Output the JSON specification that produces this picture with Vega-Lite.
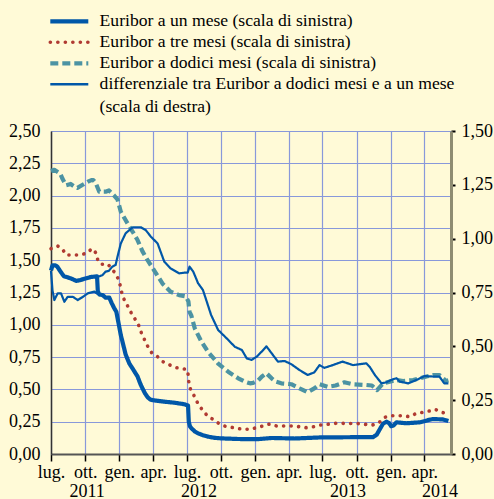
{
"$schema": "https://vega.github.io/schema/vega-lite/v6.json",
"width": 400, "height": 323,
"autosize": {"type": "none"},
"padding": {"left": 51, "top": 131, "right": 43, "bottom": 45},
"background": "#FFFAD7",
"config": {
  "view": {"stroke": null},
  "font": "Liberation Serif, Times New Roman, DejaVu Serif, serif",
  "axis": {"labelFont": "Liberation Serif, Times New Roman, DejaVu Serif, serif", "labelColor": "#000000", "labelFontSize": 18, "title": null, "labelFlush": false, "labelOverlap": false},
  "legend": {"labelFont": "Liberation Serif, Times New Roman, DejaVu Serif, serif", "labelColor": "#000000"}
},
"data": {"values": [
{"d":"2011-07-01","s":"a","v":1.42},{"d":"2011-07-05","s":"a","v":1.46},{"d":"2011-07-13","s":"a","v":1.46},{"d":"2011-07-18","s":"a","v":1.45},{"d":"2011-07-27","s":"a","v":1.41},{"d":"2011-08-05","s":"a","v":1.375},{"d":"2011-08-23","s":"a","v":1.36},{"d":"2011-09-07","s":"a","v":1.34},{"d":"2011-09-16","s":"a","v":1.345},{"d":"2011-10-04","s":"a","v":1.36},{"d":"2011-10-16","s":"a","v":1.37},{"d":"2011-11-02","s":"a","v":1.375},{"d":"2011-11-04","s":"a","v":1.26},{"d":"2011-11-08","s":"a","v":1.235},{"d":"2011-11-17","s":"a","v":1.23},{"d":"2011-11-25","s":"a","v":1.21},{"d":"2011-12-05","s":"a","v":1.21},{"d":"2011-12-11","s":"a","v":1.17},{"d":"2011-12-18","s":"a","v":1.13},{"d":"2011-12-24","s":"a","v":1.10},{"d":"2011-12-28","s":"a","v":1.04},{"d":"2012-01-05","s":"a","v":0.92},{"d":"2012-01-12","s":"a","v":0.84},{"d":"2012-01-18","s":"a","v":0.77},{"d":"2012-01-28","s":"a","v":0.70},{"d":"2012-02-06","s":"a","v":0.66},{"d":"2012-02-19","s":"a","v":0.60},{"d":"2012-02-27","s":"a","v":0.54},{"d":"2012-03-03","s":"a","v":0.51},{"d":"2012-03-10","s":"a","v":0.47},{"d":"2012-03-17","s":"a","v":0.44},{"d":"2012-03-25","s":"a","v":0.42},{"d":"2012-04-04","s":"a","v":0.415},{"d":"2012-05-01","s":"a","v":0.405},{"d":"2012-05-28","s":"a","v":0.397},{"d":"2012-06-24","s":"a","v":0.385},{"d":"2012-07-04","s":"a","v":0.375},{"d":"2012-07-06","s":"a","v":0.25},{"d":"2012-07-09","s":"a","v":0.215},{"d":"2012-07-13","s":"a","v":0.20},{"d":"2012-07-22","s":"a","v":0.175},{"d":"2012-07-31","s":"a","v":0.16},{"d":"2012-08-13","s":"a","v":0.145},{"d":"2012-08-27","s":"a","v":0.134},{"d":"2012-09-14","s":"a","v":0.125},{"d":"2012-10-02","s":"a","v":0.121},{"d":"2012-11-16","s":"a","v":0.116},{"d":"2013-01-09","s":"a","v":0.115},{"d":"2013-02-14","s":"a","v":0.124},{"d":"2013-04-17","s":"a","v":0.12},{"d":"2013-06-23","s":"a","v":0.128},{"d":"2013-09-20","s":"a","v":0.13},{"d":"2013-11-14","s":"a","v":0.13},{"d":"2013-11-24","s":"a","v":0.15},{"d":"2013-12-02","s":"a","v":0.19},{"d":"2013-12-11","s":"a","v":0.235},{"d":"2013-12-20","s":"a","v":0.25},{"d":"2013-12-27","s":"a","v":0.24},{"d":"2014-01-02","s":"a","v":0.215},{"d":"2014-01-08","s":"a","v":0.22},{"d":"2014-01-16","s":"a","v":0.245},{"d":"2014-02-12","s":"a","v":0.238},{"d":"2014-03-20","s":"a","v":0.245},{"d":"2014-04-15","s":"a","v":0.265},{"d":"2014-04-24","s":"a","v":0.27},{"d":"2014-05-21","s":"a","v":0.268},{"d":"2014-06-05","s":"a","v":0.255},
{"d":"2011-07-01","s":"b","v":1.59},{"d":"2011-07-10","s":"b","v":1.60},{"d":"2011-07-19","s":"b","v":1.61},{"d":"2011-08-02","s":"b","v":1.58},{"d":"2011-08-11","s":"b","v":1.54},{"d":"2011-08-29","s":"b","v":1.54},{"d":"2011-09-16","s":"b","v":1.54},{"d":"2011-10-04","s":"b","v":1.553},{"d":"2011-10-20","s":"b","v":1.59},{"d":"2011-10-31","s":"b","v":1.553},{"d":"2011-11-04","s":"b","v":1.50},{"d":"2011-11-13","s":"b","v":1.468},{"d":"2011-12-01","s":"b","v":1.47},{"d":"2011-12-14","s":"b","v":1.424},{"d":"2011-12-23","s":"b","v":1.393},{"d":"2012-01-01","s":"b","v":1.333},{"d":"2012-01-10","s":"b","v":1.217},{"d":"2012-01-21","s":"b","v":1.159},{"d":"2012-01-30","s":"b","v":1.107},{"d":"2012-02-10","s":"b","v":1.055},{"d":"2012-02-21","s":"b","v":1.004},{"d":"2012-02-28","s":"b","v":0.947},{"d":"2012-03-08","s":"b","v":0.89},{"d":"2012-03-17","s":"b","v":0.836},{"d":"2012-03-28","s":"b","v":0.784},{"d":"2012-04-13","s":"b","v":0.753},{"d":"2012-04-28","s":"b","v":0.714},{"d":"2012-05-16","s":"b","v":0.689},{"d":"2012-06-04","s":"b","v":0.668},{"d":"2012-06-24","s":"b","v":0.658},{"d":"2012-07-01","s":"b","v":0.655},{"d":"2012-07-04","s":"b","v":0.62},{"d":"2012-07-06","s":"b","v":0.56},{"d":"2012-07-11","s":"b","v":0.495},{"d":"2012-07-22","s":"b","v":0.443},{"d":"2012-07-31","s":"b","v":0.387},{"d":"2012-08-12","s":"b","v":0.34},{"d":"2012-08-25","s":"b","v":0.296},{"d":"2012-09-12","s":"b","v":0.263},{"d":"2012-09-28","s":"b","v":0.23},{"d":"2012-10-16","s":"b","v":0.211},{"d":"2012-11-05","s":"b","v":0.204},{"d":"2012-11-27","s":"b","v":0.191},{"d":"2012-12-18","s":"b","v":0.191},{"d":"2013-01-05","s":"b","v":0.204},{"d":"2013-01-22","s":"b","v":0.217},{"d":"2013-02-09","s":"b","v":0.232},{"d":"2013-02-27","s":"b","v":0.217},{"d":"2013-04-08","s":"b","v":0.217},{"d":"2013-04-30","s":"b","v":0.211},{"d":"2013-05-18","s":"b","v":0.204},{"d":"2013-06-05","s":"b","v":0.21},{"d":"2013-06-26","s":"b","v":0.224},{"d":"2013-08-07","s":"b","v":0.238},{"d":"2013-10-07","s":"b","v":0.235},{"d":"2013-11-12","s":"b","v":0.224},{"d":"2013-11-30","s":"b","v":0.242},{"d":"2013-12-13","s":"b","v":0.281},{"d":"2013-12-29","s":"b","v":0.296},{"d":"2014-02-03","s":"b","v":0.296},{"d":"2014-02-21","s":"b","v":0.289},{"d":"2014-03-11","s":"b","v":0.315},{"d":"2014-03-29","s":"b","v":0.323},{"d":"2014-04-15","s":"b","v":0.333},{"d":"2014-04-30","s":"b","v":0.346},{"d":"2014-05-18","s":"b","v":0.323},{"d":"2014-06-05","s":"b","v":0.31},
{"d":"2011-07-01","s":"c","v":2.19},{"d":"2011-07-10","s":"c","v":2.20},{"d":"2011-07-18","s":"c","v":2.185},{"d":"2011-07-26","s":"c","v":2.17},{"d":"2011-08-01","s":"c","v":2.13},{"d":"2011-08-10","s":"c","v":2.08},{"d":"2011-08-23","s":"c","v":2.09},{"d":"2011-09-02","s":"c","v":2.07},{"d":"2011-09-10","s":"c","v":2.06},{"d":"2011-09-28","s":"c","v":2.09},{"d":"2011-10-10","s":"c","v":2.11},{"d":"2011-10-18","s":"c","v":2.12},{"d":"2011-10-23","s":"c","v":2.12},{"d":"2011-10-29","s":"c","v":2.10},{"d":"2011-11-08","s":"c","v":2.03},{"d":"2011-11-16","s":"c","v":2.03},{"d":"2011-11-25","s":"c","v":2.03},{"d":"2011-12-04","s":"c","v":2.04},{"d":"2011-12-18","s":"c","v":2.00},{"d":"2011-12-27","s":"c","v":1.97},{"d":"2012-01-05","s":"c","v":1.875},{"d":"2012-01-23","s":"c","v":1.785},{"d":"2012-02-06","s":"c","v":1.72},{"d":"2012-02-19","s":"c","v":1.656},{"d":"2012-03-03","s":"c","v":1.57},{"d":"2012-03-17","s":"c","v":1.50},{"d":"2012-04-04","s":"c","v":1.42},{"d":"2012-04-26","s":"c","v":1.32},{"d":"2012-05-18","s":"c","v":1.256},{"d":"2012-06-10","s":"c","v":1.23},{"d":"2012-06-28","s":"c","v":1.22},{"d":"2012-07-05","s":"c","v":1.18},{"d":"2012-07-08","s":"c","v":1.10},{"d":"2012-07-13","s":"c","v":1.07},{"d":"2012-07-22","s":"c","v":0.973},{"d":"2012-08-09","s":"c","v":0.87},{"d":"2012-08-27","s":"c","v":0.79},{"d":"2012-09-23","s":"c","v":0.70},{"d":"2012-10-20","s":"c","v":0.637},{"d":"2012-11-16","s":"c","v":0.586},{"d":"2012-12-04","s":"c","v":0.56},{"d":"2012-12-18","s":"c","v":0.547},{"d":"2012-12-26","s":"c","v":0.55},{"d":"2013-01-09","s":"c","v":0.57},{"d":"2013-01-19","s":"c","v":0.60},{"d":"2013-01-31","s":"c","v":0.625},{"d":"2013-02-14","s":"c","v":0.586},{"d":"2013-02-25","s":"c","v":0.56},{"d":"2013-03-12","s":"c","v":0.547},{"d":"2013-04-08","s":"c","v":0.54},{"d":"2013-04-30","s":"c","v":0.508},{"d":"2013-05-22","s":"c","v":0.478},{"d":"2013-06-09","s":"c","v":0.508},{"d":"2013-06-23","s":"c","v":0.54},{"d":"2013-07-15","s":"c","v":0.52},{"d":"2013-08-05","s":"c","v":0.53},{"d":"2013-08-29","s":"c","v":0.555},{"d":"2013-09-21","s":"c","v":0.54},{"d":"2013-10-27","s":"c","v":0.534},{"d":"2013-11-11","s":"c","v":0.53},{"d":"2013-11-25","s":"c","v":0.495},{"d":"2013-12-11","s":"c","v":0.547},{"d":"2013-12-29","s":"c","v":0.56},{"d":"2014-01-16","s":"c","v":0.573},{"d":"2014-02-03","s":"c","v":0.565},{"d":"2014-03-02","s":"c","v":0.573},{"d":"2014-03-20","s":"c","v":0.586},{"d":"2014-04-07","s":"c","v":0.60},{"d":"2014-04-24","s":"c","v":0.61},{"d":"2014-05-12","s":"c","v":0.61},{"d":"2014-05-30","s":"c","v":0.565},{"d":"2014-06-05","s":"c","v":0.57},
{"d":"2011-07-01","s":"d","v":0.85},{"d":"2011-07-05","s":"d","v":0.76},{"d":"2011-07-10","s":"d","v":0.715},{"d":"2011-07-19","s":"d","v":0.746},{"d":"2011-07-28","s":"d","v":0.746},{"d":"2011-08-06","s":"d","v":0.707},{"d":"2011-08-15","s":"d","v":0.73},{"d":"2011-08-29","s":"d","v":0.73},{"d":"2011-09-11","s":"d","v":0.715},{"d":"2011-09-25","s":"d","v":0.73},{"d":"2011-10-08","s":"d","v":0.746},{"d":"2011-10-26","s":"d","v":0.754},{"d":"2011-11-02","s":"d","v":0.745},{"d":"2011-11-04","s":"d","v":0.823},{"d":"2011-11-16","s":"d","v":0.83},{"d":"2011-11-25","s":"d","v":0.847},{"d":"2011-12-04","s":"d","v":0.851},{"d":"2011-12-13","s":"d","v":0.87},{"d":"2011-12-22","s":"d","v":0.878},{"d":"2011-12-27","s":"d","v":0.916},{"d":"2012-01-05","s":"d","v":0.978},{"d":"2012-01-18","s":"d","v":1.025},{"d":"2012-02-06","s":"d","v":1.053},{"d":"2012-02-28","s":"d","v":1.053},{"d":"2012-03-12","s":"d","v":1.04},{"d":"2012-03-26","s":"d","v":1.009},{"d":"2012-04-13","s":"d","v":0.978},{"d":"2012-05-01","s":"d","v":0.893},{"d":"2012-05-18","s":"d","v":0.862},{"d":"2012-06-10","s":"d","v":0.839},{"d":"2012-06-24","s":"d","v":0.842},{"d":"2012-07-03","s":"d","v":0.842},{"d":"2012-07-08","s":"d","v":0.87},{"d":"2012-07-18","s":"d","v":0.847},{"d":"2012-07-31","s":"d","v":0.793},{"d":"2012-08-13","s":"d","v":0.762},{"d":"2012-08-22","s":"d","v":0.715},{"d":"2012-09-04","s":"d","v":0.646},{"d":"2012-09-23","s":"d","v":0.576},{"d":"2012-10-16","s":"d","v":0.537},{"d":"2012-11-07","s":"d","v":0.498},{"d":"2012-11-26","s":"d","v":0.483},{"d":"2012-12-09","s":"d","v":0.444},{"d":"2012-12-22","s":"d","v":0.437},{"d":"2013-01-05","s":"d","v":0.452},{"d":"2013-01-18","s":"d","v":0.475},{"d":"2013-01-31","s":"d","v":0.50},{"d":"2013-02-14","s":"d","v":0.468},{"d":"2013-03-03","s":"d","v":0.429},{"d":"2013-03-21","s":"d","v":0.432},{"d":"2013-04-08","s":"d","v":0.417},{"d":"2013-04-30","s":"d","v":0.39},{"d":"2013-05-22","s":"d","v":0.367},{"d":"2013-06-09","s":"d","v":0.379},{"d":"2013-06-23","s":"d","v":0.413},{"d":"2013-07-06","s":"d","v":0.40},{"d":"2013-07-29","s":"d","v":0.413},{"d":"2013-08-24","s":"d","v":0.429},{"d":"2013-09-21","s":"d","v":0.413},{"d":"2013-10-27","s":"d","v":0.421},{"d":"2013-11-05","s":"d","v":0.405},{"d":"2013-11-19","s":"d","v":0.367},{"d":"2013-12-07","s":"d","v":0.328},{"d":"2013-12-20","s":"d","v":0.333},{"d":"2014-01-02","s":"d","v":0.344},{"d":"2014-01-16","s":"d","v":0.352},{"d":"2014-01-25","s":"d","v":0.336},{"d":"2014-02-17","s":"d","v":0.328},{"d":"2014-03-11","s":"d","v":0.344},{"d":"2014-04-02","s":"d","v":0.362},{"d":"2014-05-03","s":"d","v":0.359},{"d":"2014-05-12","s":"d","v":0.359},{"d":"2014-05-25","s":"d","v":0.328},{"d":"2014-06-05","s":"d","v":0.328}
]},
"layer": [
  {
    "transform": [{"filter": "datum.s == 'a' || datum.s == 'c'"}],
    "mark": {"type": "line", "strokeWidth": 4.2, "strokeCap": "butt", "strokeJoin": "round"},
    "encoding": {
      "x": {"field": "d", "type": "temporal",
        "scale": {"type": "utc", "domain": [{"year": 2011, "month": 7, "date": 1, "utc": true}, {"year": 2014, "month": 6, "date": 12, "utc": true}]},
        "axis": {"orient": "bottom",
          "values": [{"year":2011,"month":7,"date":1,"utc":true},{"year":2011,"month":10,"date":1,"utc":true},{"year":2012,"month":1,"date":1,"utc":true},{"year":2012,"month":4,"date":1,"utc":true},{"year":2012,"month":7,"date":1,"utc":true},{"year":2012,"month":10,"date":1,"utc":true},{"year":2013,"month":1,"date":1,"utc":true},{"year":2013,"month":4,"date":1,"utc":true},{"year":2013,"month":7,"date":1,"utc":true},{"year":2013,"month":10,"date":1,"utc":true},{"year":2014,"month":1,"date":1,"utc":true},{"year":2014,"month":4,"date":1,"utc":true}],
          "labelExpr": "utcmonth(datum.value) == 6 ? 'lug.' : utcmonth(datum.value) == 9 ? 'ott.' : utcmonth(datum.value) == 0 ? 'gen.' : 'apr.'",
          "grid": true, "gridColor": "#8898DA", "gridWidth": 1.2, "gridOpacity": 1,
          "domainColor": "#555555", "domainWidth": 2,
          "tickColor": "#000000", "tickSize": 7, "tickWidth": 1.5,
          "labelPadding": 2}},
      "y": {"field": "v", "type": "quantitative",
        "scale": {"domain": [0, 2.5], "nice": false, "zero": false},
        "axis": {"orient": "left", "values": [0, 0.25, 0.5, 0.75, 1, 1.25, 1.5, 1.75, 2, 2.25, 2.5],
          "labelExpr": "replace(format(datum.value, '.2f'), '.', ',')",
          "grid": true, "gridColor": "#8898DA", "gridWidth": 1.2, "gridOpacity": 1,
          "ticks": false, "domainColor": "#333333", "domainWidth": 1.5, "labelPadding": 11}},
      "color": {"field": "s", "type": "nominal",
        "scale": {"domain": ["a", "b", "c", "d"], "range": ["#0057A8", "#B03A32", "#4C93A3", "#0057A8"]},
        "legend": {"orient": "none", "legendX": 9.5, "legendY": -118.5, "title": null, "padding": 0,
          "symbolType": "M-2,0L2,0", "symbolSize": 361, "labelOffset": 21.5, "rowPadding": 2,
          "labelFont": "Liberation Serif, Times New Roman, DejaVu Serif, serif",
          "labelFontSize": 17.6, "labelLimit": 600,
          "labelExpr": "datum.value == 'a' ? 'Euribor a un mese (scala di sinistra)' : datum.value == 'b' ? 'Euribor a tre mesi (scala di sinistra)' : datum.value == 'c' ? 'Euribor a dodici mesi (scala di sinistra)' : ['differenziale tra Euribor a dodici mesi e a un mese', '(scala di destra)']",
          "encode": {
            "symbols": {"update": {
              "strokeWidth": {"signal": "datum.value == 'd' ? 2.6 : datum.value == 'b' ? 3.6 : 4.2"},
              "strokeCap": {"signal": "datum.value == 'b' ? 'round' : 'butt'"},
              "fillOpacity": {"value": 0}}},
            "labels": {"update": {"baseline": {"value": "top"}, "dy": {"value": -9}, "lineHeight": {"value": 23}}}
          }}},
      "strokeDash": {"field": "s", "type": "nominal",
        "scale": {"domain": ["a", "b", "c", "d"], "range": [[1, 0], [0.1, 7.4], [8, 4], [1, 0]]}}
    }
  },
  {
    "transform": [{"filter": "datum.s == 'b'"}],
    "mark": {"type": "line", "strokeWidth": 3.6, "strokeCap": "round"},
    "encoding": {
      "x": {"field": "d", "type": "temporal",
        "scale": {"type": "utc", "domain": [{"year": 2011, "month": 7, "date": 1, "utc": true}, {"year": 2014, "month": 6, "date": 12, "utc": true}]},
        "axis": {"orient": "bottom",
          "values": [{"year":2011,"month":10,"date":5,"utc":true},{"year":2012,"month":8,"date":1,"utc":true},{"year":2013,"month":9,"date":6,"utc":true},{"year":2014,"month":5,"date":12,"utc":true}],
          "labelExpr": "utcFormat(datum.value, '%Y')",
          "grid": false, "ticks": false, "domain": false, "labelPadding": 28}},
      "y": {"field": "v", "type": "quantitative",
        "scale": {"domain": [0, 2.5], "nice": false, "zero": false}, "axis": null},
      "color": {"field": "s", "type": "nominal"},
      "strokeDash": {"field": "s", "type": "nominal"}
    }
  },
  {
    "transform": [{"filter": "datum.s == 'd'"}],
    "mark": {"type": "line", "strokeWidth": 2.2, "strokeJoin": "round"},
    "encoding": {
      "x": {"field": "d", "type": "temporal",
        "scale": {"type": "utc", "domain": [{"year": 2011, "month": 7, "date": 1, "utc": true}, {"year": 2014, "month": 6, "date": 12, "utc": true}]},
        "axis": null},
      "y": {"field": "v", "type": "quantitative",
        "scale": {"domain": [0, 1.5], "nice": false, "zero": false},
        "axis": {"orient": "right", "values": [0, 0.25, 0.5, 0.75, 1, 1.25, 1.5],
          "labelExpr": "replace(format(datum.value, '.2f'), '.', ',')",
          "grid": false, "domainColor": "#8E8C72", "domainWidth": 3,
          "tickColor": "#000000", "tickSize": 4, "tickWidth": 2, "labelPadding": 6}},
      "color": {"field": "s", "type": "nominal"},
      "strokeDash": {"field": "s", "type": "nominal"}
    }
  }
],
"resolve": {"scale": {"y": "independent", "x": "independent"}}
}
